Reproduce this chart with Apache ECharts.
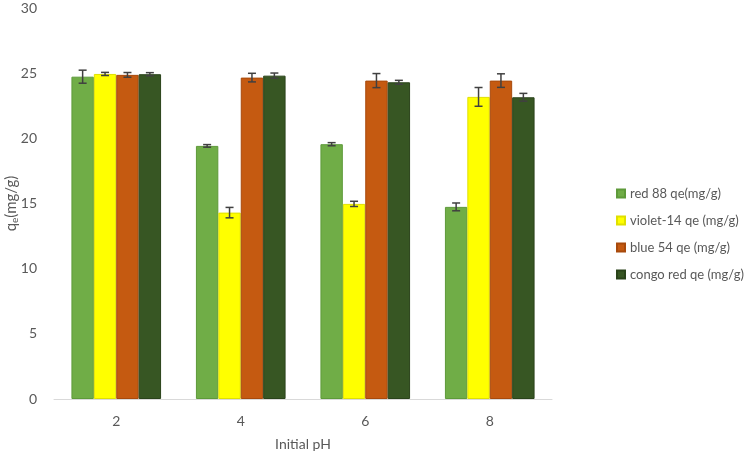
<!DOCTYPE html>
<html><head><meta charset="utf-8">
<script src="https://cdn.jsdelivr.net/npm/echarts@6/dist/echarts.min.js"></script>
<style>html,body{margin:0;padding:0;background:#fff}#c{width:749px;height:455px}</style>
</head><body><div id="c"></div>
<script>
const categories = ['2', '4', '6', '8'];
const seriesNames = ['red 88 qe(mg/g)', 'violet-14 qe (mg/g)', 'blue 54 qe (mg/g)', 'congo red qe (mg/g)'];
const red88 = [24.73, 19.42, 19.55, 14.74];
const violet14 = [24.94, 14.3, 14.97, 23.18];
const blue54 = [24.87, 24.66, 24.43, 24.43];
const congoRed = [24.92, 24.81, 24.3, 23.15];
const red88Err = [0.5, 0.1, 0.12, 0.3];
const violet14Err = [0.12, 0.4, 0.2, 0.72];
const blue54Err = [0.18, 0.33, 0.54, 0.52];
const congoRedErr = [0.12, 0.2, 0.15, 0.3];
const yTicks = [0, 5, 10, 15, 20, 25, 30];

const values = [red88, violet14, blue54, congoRed];
const errs = [red88Err, violet14Err, blue54Err, congoRedErr];
const colors = ['#70AD47', '#FFFF00', '#C55A11', '#375623'];
const borders = ['#5E9A3A', '#E0E000', '#A84A0C', '#2A431A'];
const gapRatio = 0.28;
const FONT = 'Lato, Open Sans, sans-serif';

const chart = echarts.init(document.getElementById('c'), null, {renderer: 'canvas'});
const series = [];
values.forEach((v, i) => {
  series.push({
    name: seriesNames[i], type: 'bar', data: v,
    barGap: '0%', barCategoryGap: (gapRatio * 100) + '%',
    itemStyle: {color: colors[i], borderColor: borders[i], borderWidth: 1}
  });
});
values.forEach((v, i) => {
  series.push({
    type: 'custom', z: 10, silent: true,
    data: v.map((val, k) => [k, val, errs[i][k]]),
    renderItem: function (params, api) {
      const k = api.value(0), val = api.value(1), e = api.value(2);
      const band = api.size([1, 0])[0];
      const bw = band * (1 - gapRatio) / 4;
      const c = api.coord([k, val]);
      const x = c[0] + (i - 1.5) * bw;
      const yTop = api.coord([k, val + e])[1];
      const yBot = api.coord([k, val - e])[1];
      const cap = 4;
      const st = {stroke: '#404040', lineWidth: 1.5};
      return {type: 'group', children: [
        {type: 'line', shape: {x1: x, y1: yTop, x2: x, y2: yBot}, style: st},
        {type: 'line', shape: {x1: x - cap, y1: yTop, x2: x + cap, y2: yTop}, style: st},
        {type: 'line', shape: {x1: x - cap, y1: yBot, x2: x + cap, y2: yBot}, style: st}
      ]};
    }
  });
});

chart.setOption({
  animation: false,
  textStyle: {fontFamily: FONT},
  grid: {left: 54, right: 197, top: 8, bottom: 56, containLabel: false, outerBoundsMode: 'none'},
  legend: {
    data: seriesNames, orient: 'vertical', left: 611, top: 182,
    itemWidth: 8, itemHeight: 8, itemGap: 14, icon: 'rect',
    textStyle: {color: '#595959', fontSize: 13, fontFamily: FONT}
  },
  xAxis: {
    type: 'category', data: categories,
    name: 'Initial pH', nameLocation: 'middle', nameGap: 38, nameMoveOverlap: false,
    nameTextStyle: {color: '#595959', fontSize: 14, fontFamily: FONT},
    axisLine: {lineStyle: {color: '#D9D9D9', width: 1}},
    axisTick: {show: false},
    axisLabel: {color: '#595959', fontSize: 14, margin: 15, fontFamily: FONT}
  },
  yAxis: {
    type: 'value', min: 0, max: 30, interval: 5,
    name: '{a|q}{s|e}{a|(mg/g)}', nameLocation: 'middle', nameGap: 34, nameRotate: 90,
    nameMoveOverlap: false,
    nameTextStyle: {rich: {
      a: {color: '#595959', fontSize: 15, fontFamily: FONT},
      s: {color: '#595959', fontSize: 10, verticalAlign: 'bottom', padding: [7, 0, 0, 0], fontFamily: FONT}
    }},
    axisLine: {show: false}, axisTick: {show: false},
    splitLine: {show: false},
    axisLabel: {color: '#595959', fontSize: 14, margin: 17, fontFamily: FONT,
      formatter: function (v) { return yTicks.indexOf(v) >= 0 ? String(v) : ''; }}
  },
  series: series
});
</script></body></html>
